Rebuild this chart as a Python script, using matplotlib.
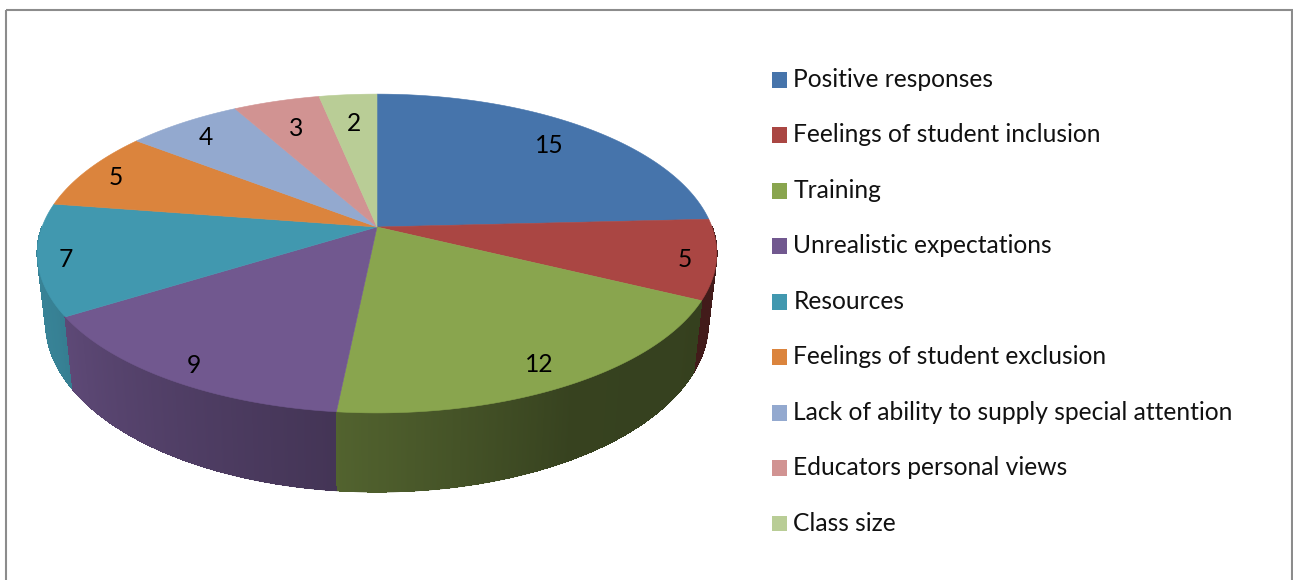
import numpy as np
import matplotlib
matplotlib.use("Agg")
import matplotlib.pyplot as plt
from matplotlib.collections import LineCollection
from matplotlib.patches import Patch, Polygon, Rectangle

categories = ["Positive responses", "Feelings of student inclusion", "Training",
              "Unrealistic expectations", "Resources", "Feelings of student exclusion",
              "Lack of ability to supply special attention", "Educators personal views",
              "Class size"]
values = [15, 5, 12, 9, 7, 5, 4, 3, 2]
colors = ["#4674AB", "#AA4643", "#89A54E", "#71588F", "#4198AF",
          "#DB843D", "#93A9CF", "#D19392", "#B9CD96"]
label_r = [0.82, 0.91, 0.87, 0.90, 0.92, 0.90, 0.87, 0.78, 0.78]

plt.rcParams["font.family"] = ["Lato", "DejaVu Sans"]
FS = 17.7

W, H = 1293, 580
fig = plt.figure(figsize=(W / 100, H / 100), dpi=100, facecolor="white")
ax = fig.add_axes([0, 0, 1, 1])
ax.set_xlim(0, W)
ax.set_ylim(H, 0)
ax.axis("off")

# perspective projection of the disc
CX, CY, A, B, K = 377.0, 227.0, 155.0, 335.0, 0.1663


def top(theta, r=1.0):
    u, v = r * np.sin(theta), -r * np.cos(theta)
    d = 1 - K * v
    return CX + B * u / d, CY + A * v / d


def bottom(theta):
    x, y = top(theta)
    return CX + (x - CX) * 0.975, y + 53 + 0.0625 * y


def shade(theta):
    return np.interp(np.degrees(theta), [90, 150, 186, 243, 270],
                     [0.38, 0.40, 0.60, 0.85, 0.88])


edges = np.cumsum([0] + values) / sum(values) * 2 * np.pi

# side wall, back to front
quads, rim_segs, rim_cols = [], [], []
for i, c in enumerate(colors):
    th = np.linspace(edges[i], edges[i + 1], max(2, int(values[i] * 30)))
    rgb = np.array(matplotlib.colors.to_rgb(c))
    for a, b in zip(th[:-1], th[1:]):
        m = (a + b) / 2
        if np.pi * 0.5 < m < np.pi * 1.5:
            fine = np.array([a, b])
            xt, yt = top(fine)
            xb, yb = bottom(fine)
            pts = np.vstack([np.column_stack([xt, yt]),
                             np.column_stack([xb, yb])[::-1]])
            col = rgb * shade(m)
            quads.append((-np.cos(m), pts, col))
            rim_segs.append(np.column_stack([xb, yb]))
            rim_cols.append(col)
ax.add_collection(LineCollection(rim_segs, colors=rim_cols, linewidths=1.0,
                                 antialiaseds=True, zorder=0.9))
for _, pts, col in sorted(quads, key=lambda q: q[0]):
    ax.add_patch(Polygon(pts, closed=True, facecolor=col, edgecolor=col, lw=0.5,
                         antialiased=False, zorder=1))

# top face
for i, c in enumerate(colors):
    th = np.linspace(edges[i], edges[i + 1], 120)
    x, y = top(th)
    pts = np.vstack([[CX, CY], np.column_stack([x, y])])
    ax.add_patch(Polygon(pts, closed=True, facecolor=c, edgecolor=c, lw=0.4, zorder=1.1))

# value labels
for i, val in enumerate(values):
    m = (edges[i] + edges[i + 1]) / 2
    x, y = top(m, label_r[i])
    ax.annotate(str(val), (x, y), xytext=(0, -2), textcoords="offset points",
                ha="center", va="center", fontsize=FS, color="black", zorder=3)

# chart frame (bottom runs off the picture)
ax.add_patch(Rectangle((6, 10), 1286, 600, fill=False, edgecolor="#8c8c8c", lw=1.5))

handles = [Patch(facecolor=c, edgecolor="none", label=n) for c, n in zip(colors, categories)]
leg = ax.legend(handles=handles, loc="upper left", bbox_to_anchor=(772, 68),
                bbox_transform=ax.transData, frameon=False, fontsize=FS, borderpad=0,
                borderaxespad=0, handlelength=0.62, handleheight=0.62, handletextpad=0.25,
                labelspacing=1.32, labelcolor="#111111")
for h in leg.legend_handles:
    h.set_y(h.get_y() - 1.1)

fig.savefig("out.png", dpi=100, facecolor="white")
